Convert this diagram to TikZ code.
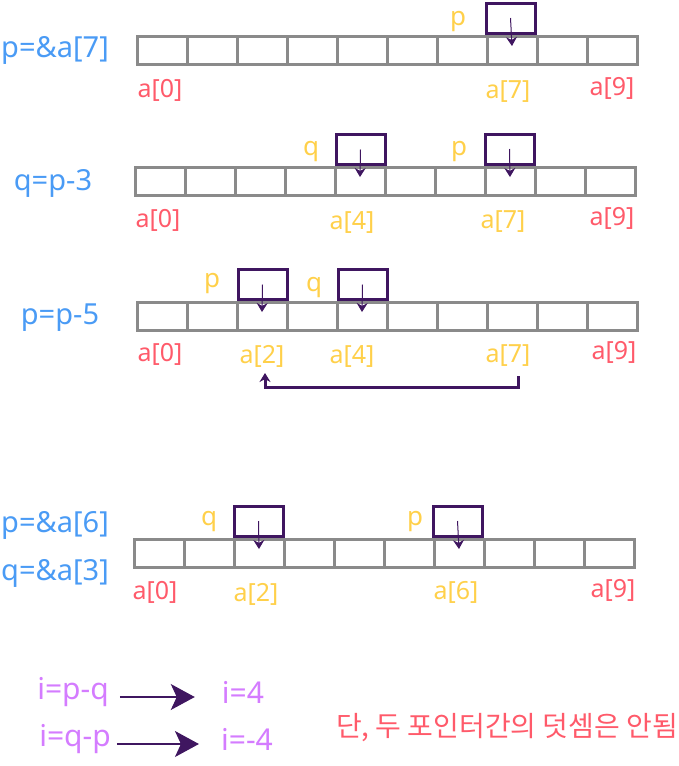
\documentclass[tikz,border=0pt]{standalone}
\usepackage{fontspec}
\setmainfont{Noto Sans}
\newfontfamily\krfont{Noto Sans CJK KR}
\usetikzlibrary{arrows.meta}
\definecolor{cblue}{HTML}{4A9BF5}
\definecolor{cred}{HTML}{FF5A6A}
\definecolor{cyel}{HTML}{FFD04A}
\definecolor{clpur}{HTML}{D47CFF}
\definecolor{cdpur}{HTML}{3F1660}
\definecolor{cgray}{HTML}{8A8A8A}
\newcommand\mkrow[3]{\foreach \i in {0,...,9}{\node[cell] (#1\i) at ({#2+25+50*\i},#3) {};}}
\begin{document}
\begin{tikzpicture}[x=1pt,y=-1pt,
  cell/.style={draw=cgray, line width=3pt, minimum width=50pt, minimum height=28pt, inner sep=0pt, outer sep=0pt},
  ptrbox/.style={draw=cdpur, line width=3pt, minimum width=49pt, minimum height=30pt, inner sep=0pt},
  ptrarrow/.style={draw=cdpur, line width=1pt, -{Stealth[length=9pt,width=11pt]}},
  lblue/.style={text=cblue, font=\fontsize{29}{31}\selectfont, inner sep=0pt},
  lred/.style={text=cred, font=\fontsize{25}{27}\selectfont, inner sep=0pt},
  lyel/.style={text=cyel, font=\fontsize{25}{27}\selectfont, inner sep=0pt},
  lptr/.style={text=cyel, font=\fontsize{26}{28}\selectfont, inner sep=0pt},
  lpur/.style={text=clpur, font=\fontsize{30}{32}\selectfont, inner sep=0pt},
  back/.style={draw=cdpur, line width=3pt, -{Stealth[length=9pt,width=11pt]}},
  resarrow/.style={draw=cdpur, line width=1.2pt, -{Stealth[length=24pt,width=26pt,inset=6pt]}}]
\useasboundingbox (0,0) rectangle (679,766);
% Row 1
\node[lblue] (t1) at (55,50) {p=\&a[7]};
\mkrow{A}{137}{50}
\node[ptrbox] (pA) at (510.5,18) {};
\node[lptr] (lpA) at (458,22) {p};
\draw[ptrarrow] (pA.center) -- ([yshift=4pt]A7.center);
\node[lred] (A0l) at (160,90) {a[0]};
\node[lyel] (A7l) at (508,92) {a[7]};
\node[lred] (A9l) at (612,88) {a[9]};
% Row 2
\node[lblue] (t2) at (53,183) {q=p-3};
\mkrow{B}{135}{181}
\node[ptrbox] (qB) at (360.5,149.5) {};
\node[ptrbox] (pB) at (509.5,149) {};
\node[lptr] (lqB) at (311,152) {q};
\node[lptr] (lpB) at (459,152) {p};
\draw[ptrarrow] (qB.center) -- ([yshift=4pt]B4.center);
\draw[ptrarrow] (pB.center) -- ([yshift=4pt]B7.center);
\node[lred] (B0l) at (158,220) {a[0]};
\node[lyel] (B4l) at (352,222) {a[4]};
\node[lyel] (B7l) at (503,222) {a[7]};
\node[lred] (B9l) at (612,218) {a[9]};
% Row 3
\node[lblue] (t3) at (60,318) {p=p-5};
\mkrow{C}{137}{316}
\node[ptrbox] (pC) at (262.5,284.5) {};
\node[ptrbox] (qC) at (362.5,284.5) {};
\node[lptr] (lpC) at (212,284) {p};
\node[lptr] (lqC) at (314,288) {q};
\draw[ptrarrow] (pC.center) -- ([yshift=4pt]C2.center);
\draw[ptrarrow] (qC.center) -- ([yshift=4pt]C4.center);
\node[lred] (C0l) at (160,354) {a[0]};
\node[lyel] (C2l) at (262,356) {a[2]};
\node[lyel] (C4l) at (352,356) {a[4]};
\node[lyel] (C7l) at (508,356) {a[7]};
\node[lred] (C9l) at (614,352) {a[9]};
\coordinate (bs) at (518,376);
\coordinate (be) at (265,373);
\draw[back] (bs) -- ++(0,11) -| (be);
% Row 4
\node[lblue] (t4a) at (55,525) {p=\&a[6]};
\node[lblue] (t4b) at (55,573) {q=\&a[3]};
\mkrow{D}{134}{553}
\node[ptrbox] (qD) at (258.5,521) {};
\node[ptrbox] (pD) at (457.5,521) {};
\node[lptr] (lqD) at (209,522) {q};
\node[lptr] (lpD) at (415,522) {p};
\draw[ptrarrow] (qD.center) -- ([yshift=4pt]D2.center);
\draw[ptrarrow] (pD.center) -- ([yshift=4pt]D6.center);
\node[lred] (D0l) at (155,592) {a[0]};
\node[lyel] (D2l) at (256,594) {a[2]};
\node[lyel] (D6l) at (456,592) {a[6]};
\node[lred] (D9l) at (613,590) {a[9]};
% Bottom
\node[lpur] (e1) at (73,692) {i=p-q};
\node[lpur] (r1) at (243,692) {i=4};
\node[lpur] (e2) at (75,739) {i=q-p};
\node[lpur] (r2) at (247,739) {i=-4};
\draw[resarrow] ([xshift=11pt,yshift=-5pt]e1.east) -- ([xshift=-27pt,yshift=-5pt]r1.west);
\draw[resarrow] ([xshift=6pt,yshift=-5pt]e2.east) -- ([xshift=-22pt,yshift=-5pt]r2.west);
\node[text=cred, font=\krfont\fontsize{28}{30}\selectfont, inner sep=0pt] (note) at (507,728) {단, 두 포인터간의 덧셈은 안됨};
\end{tikzpicture}
\end{document}
